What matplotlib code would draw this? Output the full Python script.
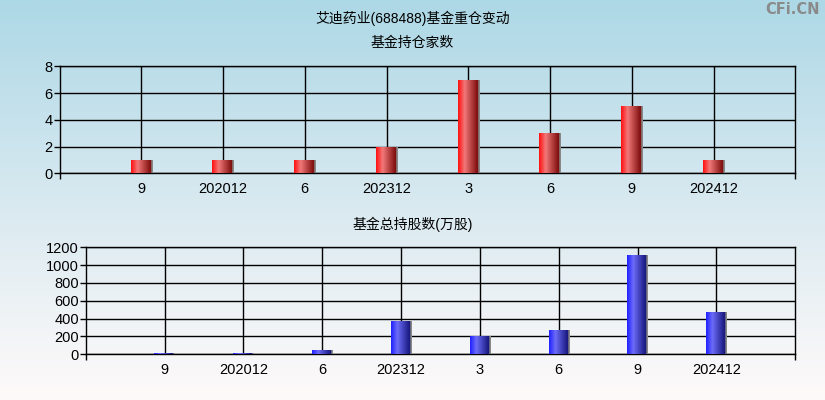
import numpy as np
import matplotlib
matplotlib.use('Agg')
from matplotlib import pyplot as plt
from matplotlib.colors import LinearSegmentedColormap

plt.rcParams['font.family'] = ['Liberation Sans', 'Noto Sans CJK SC', 'DejaVu Sans']

title = '艾迪药业(688488)基金重仓变动'
labels = ['9', '202012', '6', '202312', '3', '6', '9', '202412']
fund_count = [1, 1, 1, 2, 7, 3, 5, 1]
fund_shares = [14, 14, 48, 373, 205, 272, 1114, 474]

fig = plt.figure(figsize=(8.25, 4), dpi=100)

# background gradient
bg = fig.add_axes([0, 0, 1, 1], zorder=-10)
bg_cmap = LinearSegmentedColormap.from_list('bg', ['#add8e6', '#d8e9f0', '#fffafa'])
bg.imshow(np.linspace(0, 1, 256).reshape(-1, 1), aspect='auto', cmap=bg_cmap,
          extent=[0, 1, 0, 1])
bg.axis('off')

red = LinearSegmentedColormap.from_list('red', [(0, '#ff1010'), (0.3, '#f27878'),
                                                (0.92, '#7a0a0a'), (0.93, '#888888'),
                                                (1, '#888888')])
blue = LinearSegmentedColormap.from_list('blue', [(0, '#2020ff'), (0.3, '#6c6cf8'),
                                                  (0.92, '#15157a'), (0.93, '#888888'),
                                                  (1, '#888888')])
grad = np.linspace(0, 1, 64).reshape(1, -1)


def draw(ax, values, cmap, ymax, ystep):
    x = np.arange(1, len(values) + 1)
    bars = ax.bar(x, values, width=0.26, color='none', zorder=3)
    for b in bars:
        im = ax.imshow(grad, cmap=cmap, aspect='auto', zorder=3,
                       extent=[b.get_x(), b.get_x() + b.get_width(), 0, b.get_height()])
        im.set_clip_path(b)
    ax.set_xlim(0, len(values) + 1)
    ax.set_ylim(0, ymax)
    ax.set_yticks(np.arange(0, ymax + 1, ystep))
    ax.set_xticks(x)
    ax.set_xticklabels(labels)
    ax.set_xticks([0, len(values) + 1], minor=True)
    ax.tick_params(axis='x', which='major', length=0, pad=6, labelsize=10.5)
    ax.tick_params(axis='x', which='minor', length=4, width=1, direction='out')
    ax.tick_params(axis='y', length=4, width=1, labelsize=10.5, pad=1)
    ax.grid(True, color='black', lw=1, zorder=1)
    ax.set_facecolor('none')
    for s in ax.spines.values():
        s.set_linewidth(1)
    ax.set_axisbelow(True)


W, H = 825, 400
ax1 = fig.add_axes([59.5 / W, 1 - 173.3 / H, (795.3 - 59.5) / W, (173.3 - 66.3) / H])
draw(ax1, fund_count, red, 8, 2)
ax2 = fig.add_axes([85.7 / W, 1 - 354.3 / H, (795.3 - 85.7) / W, (354.3 - 247.3) / H])
draw(ax2, fund_shares, blue, 1200, 200)

fig.text(0.5, 1 - 18 / H, title, ha='center', va='center', fontsize=10)
fig.text(0.5, 1 - 43 / H, '基金持仓家数', ha='center', va='center', fontsize=10)
fig.text(0.5, 1 - 224 / H, '基金总持股数(万股)', ha='center', va='center', fontsize=10)
fig.text(820 / W, 1 - 10 / H, 'CFi.CN', ha='right', va='center', fontsize=10.5,
         color='#8a8a8a', fontweight='bold', family='DejaVu Sans')

fig.savefig('out.png', dpi=100)
